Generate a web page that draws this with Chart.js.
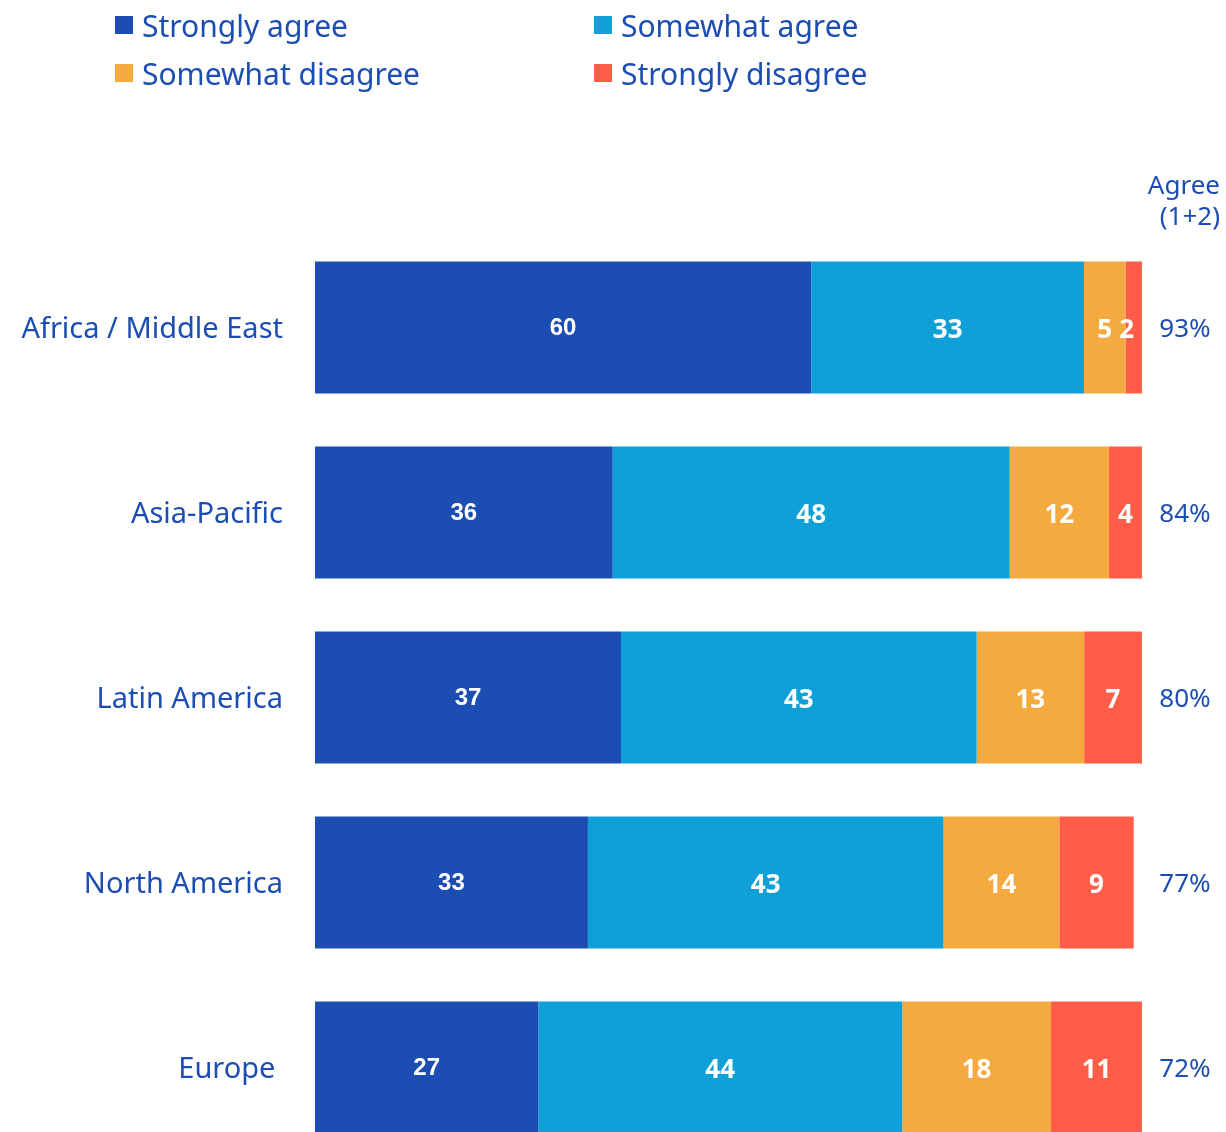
<!DOCTYPE html>
<html lang="en">
<head>
  <meta charset="UTF-8" />
  <title>Agreement by region</title>
  <script src="https://cdn.jsdelivr.net/npm/chart.js"></script>
  <style>
    html, body {
      margin: 0;
      padding: 0;
      background: #fff;
      overflow: hidden;
    }
    .wrap {
      position: relative;
      width: 1226px;
      height: 1160px;
    }
    /* two-column legend above the bars */
    .legend {
      position: absolute;
      left: 115px;
      top: 1px;
      display: grid;
      grid-template-columns: 479px auto;
      font-family: "Noto Sans", sans-serif;
      font-size: 30px;
      color: #1c4db3;
    }
    .legend-item {
      display: flex;
      align-items: center;
      height: 48px;
      white-space: nowrap;
    }
    .legend-item span.box {
      display: inline-block;
      width: 18px;
      height: 18px;
      margin-right: 9px;
      margin-top: -1px;
    }
  </style>
</head>
<body>
  <div class="wrap">
    <div class="legend" id="legend"></div>
    <canvas id="regionChart" width="1226" height="1160"></canvas>
  </div>

  <script>
    const regions = ['Africa / Middle East', 'Asia-Pacific', 'Latin America', 'North America', 'Europe '];
    const seriesNames = ['Strongly agree', 'Somewhat agree', 'Somewhat disagree', 'Strongly disagree'];
    const stronglyAgree = [60, 36, 37, 33, 27];
    const somewhatAgree = [33, 48, 43, 43, 44];
    const somewhatDisagree = [5, 12, 13, 14, 18];
    const stronglyDisagree = [2, 4, 7, 9, 11];
    const agreeTotal = [93, 84, 80, 77, 72];
    const agreeHeader = ['Agree', '(1+2)'];

    const colors = ['#1c4db3', '#10a0d8', '#f5aa3f', '#ff5d47'];
    const textBlue = '#1c4db3';

    // legend in two columns
    const legendEl = document.getElementById('legend');
    seriesNames.forEach((name, i) => {
      const item = document.createElement('div');
      item.className = 'legend-item';
      item.innerHTML = '<span class="box" style="background:' + colors[i] + '"></span>' + name;
      legendEl.appendChild(item);
    });

    // white value labels inside each segment + agree totals on the right
    const segmentLabels = {
      id: 'segmentLabels',
      afterDatasetsDraw(chart) {
        const ctx = chart.ctx;
        ctx.save();
        ctx.textBaseline = 'middle';
        ctx.textAlign = 'center';
        ctx.fillStyle = '#fff';
        chart.data.datasets.forEach((ds, di) => {
          const meta = chart.getDatasetMeta(di);
          if (di === 0) {
            ctx.font = 'bold 24px "Liberation Sans", Arial, sans-serif';
          } else {
            ctx.font = 'bold 26px "Noto Sans", sans-serif';
          }
          meta.data.forEach((bar, i) => {
            const txt = String(ds.data[i]);
            const right = Math.max(bar.x, bar.base);
            const w = ctx.measureText(txt).width;
            let x = (bar.x + bar.base) / 2;
            // keep narrow labels from spilling over the bar end
            if (x + w / 2 > right - 8) x = right - 8 - w / 2;
            const dy = di === 0 ? 1 : 3;
            ctx.fillText(txt, x, bar.y + dy);
          });
        });

        // totals column
        const yScale = chart.scales.y;
        ctx.fillStyle = textBlue;
        ctx.font = '26px "Noto Sans", sans-serif';
        ctx.textAlign = 'center';
        agreeTotal.forEach((v, i) => {
          ctx.fillText(v + '%', 1185, yScale.getPixelForValue(i) + 2);
        });
        ctx.textAlign = 'right';
        ctx.fillText(agreeHeader[0], 1220, 187);
        ctx.fillText(agreeHeader[1], 1220, 218);
        ctx.restore();
      }
    };

    const seriesValues = [stronglyAgree, somewhatAgree, somewhatDisagree, stronglyDisagree];

    new Chart(document.getElementById('regionChart').getContext('2d'), {
      type: 'bar',
      data: {
        labels: regions,
        datasets: seriesValues.map((vals, i) => ({
          label: seriesNames[i],
          data: vals,
          backgroundColor: colors[i],
          borderWidth: 0,
          categoryPercentage: 1,
          barPercentage: 0.713
        }))
      },
      options: {
        indexAxis: 'y',
        responsive: false,
        animation: false,
        devicePixelRatio: 1,
        layout: {
          padding: { top: 235, right: 84, bottom: 0, left: 0 }
        },
        scales: {
          x: {
            stacked: true,
            min: 0,
            max: 100,
            display: false
          },
          y: {
            stacked: true,
            grid: { display: false, drawTicks: false },
            border: { display: false },
            ticks: {
              color: textBlue,
              padding: 32,
              labelOffset: 2,
              font: { family: '"Noto Sans", sans-serif', size: 29 }
            },
            afterFit(scale) {
              scale.width = 315;
              scale.paddingTop = 0;
              scale.paddingBottom = 0;
            }
          }
        },
        plugins: {
          legend: { display: false },
          tooltip: { enabled: false }
        }
      },
      plugins: [segmentLabels]
    });
  </script>
</body>
</html>
